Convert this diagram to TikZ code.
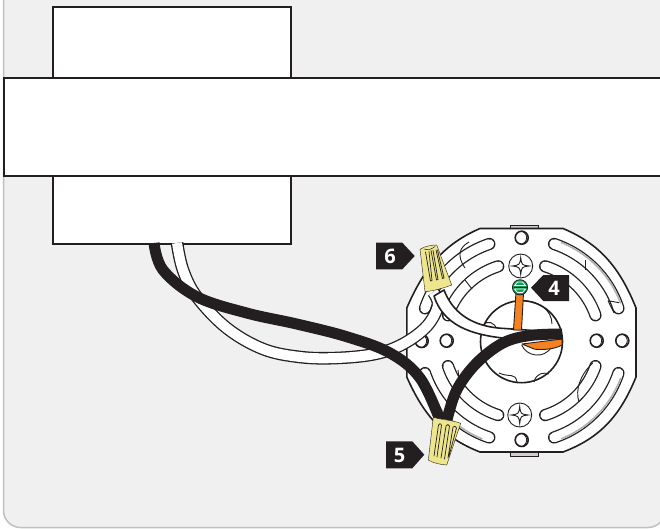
\documentclass[tikz,border=0pt]{standalone}
\usepackage{fontspec}
\setmainfont{Open Sans}
\definecolor{bgc}{HTML}{F0F0F0}
\definecolor{ink}{HTML}{231F20}
\definecolor{edgec}{HTML}{BFC0C2}
\definecolor{wnut}{HTML}{EDE68C}
\definecolor{wire}{HTML}{F58220}
\definecolor{grn}{HTML}{12A05A}
\tikzset{
  outl/.style={draw=ink,line width=1.6pt},
  thin line/.style={draw=ink,line width=0.9pt},
  tag/.style={fill=ink,draw=none},
  tagtext/.style={text=white,font=\bfseries\fontsize{20}{20}\selectfont,inner sep=0pt},
  nut/.style={fill=wnut,draw=ink,line width=0.4pt,line join=round},
  rib/.style={draw=ink,line width=0.7pt,line cap=round,line join=round},
  blackwire/.style={draw=ink,line width=11pt,line cap=butt},
}
\newcommand{\arcplot}[3]{plot[domain=#1:#2,samples=30,smooth] ({521.7+#3*cos(\x)},{340.7+#3*sin(\x)})}
\newcommand{\slotarc}[3]{%
  \draw[ink,line width=12.2pt,line cap=round] \arcplot{#1}{#2}{#3};
  \draw[white,line width=9.6pt,line cap=round] \arcplot{#1}{#2}{#3};}
\newcommand{\crescent}[3]{\draw[gray!60,line width=1.6pt,line cap=round] \arcplot{#1}{#2}{#3};}
\newcommand{\holec}[3]{\draw[outl,fill=white] (#1,#2) circle[radius=#3];
  \draw[ink,line width=0.8pt] plot[domain=-65:65,samples=12,smooth] ({#1-1.6+#3*cos(\x)},{#2+#3*sin(\x)});}
\newcommand{\starscrew}[2]{%
  \draw[thin line,fill=white] (#1,#2) circle[radius=12];
  \draw[thin line,line join=miter] (#1,#2-8.5) .. controls (#1+1,#2-1) .. (#1+8.5,#2)
     .. controls (#1+1,#2+1) .. (#1,#2+8.5) .. controls (#1-1,#2+1) .. (#1-8.5,#2)
     .. controls (#1-1,#2-1) .. cycle;}
\begin{document}
\begin{tikzpicture}[x=1pt,y=-1pt]
\useasboundingbox (0,0) rectangle (660,529);
% panel
\draw[fill=bgc,draw=edgec,line width=1.5pt,rounded corners=17pt] (3.5,-40) rectangle (665,527.5);
% wall box
\node[outl,fill=white,minimum width=238pt,minimum height=237pt,inner sep=0pt,anchor=north west] (box) at (52,6) {};
% bar
\draw[outl,fill=white] (720,78) -- (4,78) -- (4,176) -- (720,176);
% plate
\coordinate (pc) at (521.7,340.7);
\draw[thin line,fill=bgc!70!gray] (510,229) rectangle (538,225.8);
\draw[thin line,fill=bgc!70!gray] (510,452) rectangle (538,456);
\draw[outl,fill=white,line join=round]
  (480,228.5) -- (563,228.5)
  .. controls (600,244) and (620,268) .. (636,308)
  -- (636,377)
  .. controls (620,416) and (600,438) .. (563,452)
  -- (480,452)
  .. controls (444,438) and (424,416) .. (406.8,377)
  -- (406.8,308)
  .. controls (424,268) and (444,244) .. cycle;
% slots
\slotarc{-71.5}{-18.5}{102}
\slotarc{18.5}{71.5}{102}
\slotarc{108.5}{161.5}{102}
\slotarc{198.5}{251.5}{102}
\slotarc{-72.5}{-19}{78}
\slotarc{19}{72.5}{78}
\slotarc{107.5}{161}{78}
\slotarc{199}{252.5}{78}
\crescent{-68}{-21}{105.8}
\crescent{21}{68}{105.8}
\crescent{112}{150}{105.8}
% details seen through the slots
\draw[thin line] (585,260) -- (585,270);
\draw[thin line] (608,300.7) -- (619,302.7) (608,300.7) -- (614,313);
\draw[thin line] (592.7,363) .. controls (580,375) and (575,390) .. (579,402);
\draw[thin line] (458,370) .. controls (460,385) and (459,395) .. (455,397);
\draw[thin line] (465,280) -- (472,289);
\draw[thin line] (469,242) .. controls (460,247) and (456,255) .. (465,268);
% holes and screws
\holec{521.7}{237.7}{6.5}
\holec{521.7}{440}{6.5}
\holec{446.7}{340.7}{6.5}
\holec{596.7}{340.7}{6.5}
\holec{622.3}{340.7}{6.5}
\holec{421.7}{341}{6.5}
\starscrew{520.7}{266}
\starscrew{519.7}{415}
% centre circle and its details
\draw[outl,fill=white] (521.5,341.7) circle[radius=41];
\draw[thin line] (483,325) .. controls (487,320) and (495,322) .. (497,330);
\draw[thin line] (499,373) .. controls (510,378) and (515,372) .. (517,382);
\draw[thin line] (534,382) .. controls (536,373) and (544,372) .. (549,374);
\draw[thin line] (522,301) .. controls (538,300) and (552,310) .. (552,324);
\draw[thin line] (521.7,345) .. controls (526,356) and (544,360) .. (551.7,346.7);
% white wire from the box
\draw[ink,line width=12.6pt] plot[smooth,tension=0.6] coordinates {(177,243) (183,270) (196.7,296.7) (226.7,328) (263,349) (300,357) (336.7,358) (375,354) (403,344) (427,326) (438,305) (433,292)};
\draw[white,line width=10pt] plot[smooth,tension=0.6] coordinates {(177,243) (183,270) (196.7,296.7) (226.7,328) (263,349) (300,357) (336.7,358) (375,354) (403,344) (427,326) (438,305) (433,292)};
% white wire into the centre
\draw[outl,fill=white,line join=round]
  (444,290) .. controls (452,311) and (470,327) .. (505,328.5)
  -- (540,331) -- (512,339)
  .. controls (480,336) and (445,330) .. (434,296) -- cycle;
% orange wires
\draw[thin line,fill=wire,line join=round] (516,292) -- (523.5,293) -- (521.5,330) -- (513.5,330) -- cycle;
\draw[thin line,fill=wire,line join=round] (522,344) -- (562,339) -- (562,345) .. controls (554,350) and (538,350) .. (534,349) -- cycle;
% black wires
\draw[blackwire] plot[smooth,tension=0.6] coordinates {(154,243) (163,270) (196.7,296.7) (246.7,313) (296.7,324) (346.7,336.7) (390,353) (420,378) (440,420)};
\draw[blackwire] plot[smooth,tension=0.6] coordinates {(447,420) (456.7,390) (476.7,363) (503,343) (530,335.5) (562,334)};
% green screw
\draw[draw=ink,line width=0.8pt,fill=grn] (520,287.3) circle[radius=7.6];
\draw[white,line width=0.7pt,line join=round] (514.5,285.5) -- (517.5,282) -- (522.5,282) -- (525.5,285.5) -- cycle;
\draw[white,line width=0.7pt,line join=round] (514.5,289) -- (517.5,292.5) -- (522.5,292.5) -- (525.5,289) -- cycle;
\draw[ink,line width=0.6pt] (513.5,287.3) -- (526.5,287.3);
% wire nut 6
\node[inner sep=0pt] (n6) at (436,268) {};
\draw[nut] (420,249.3) .. controls (425,246) and (432,245) .. (436.7,245) -- (451.7,285) .. controls (444,288) and (433,291) .. (425,291.7) -- cycle;
\draw[rib] (425.5,252) -- (430.5,281) -- (432,280.5) -- (429,251.5)
           (431,250.5) -- (436.5,280) -- (438,279.5) -- (433,250.5);
\draw[rib] (436,250) -- (442.5,278.5) -- (444,278) -- (437.5,250);
\draw[draw=ink,line width=0.5pt,fill=wnut!70!white] (424,249) .. controls (428,250.5) and (432,249) .. (435,246.5);
% wire nut 5
\node[inner sep=0pt] (n5) at (443,440) {};
\draw[nut] (433.3,417.3) .. controls (442,420) and (452,420) .. (460.7,423.3) -- (446.7,465) .. controls (440,464.5) and (433,463) .. (428.3,460) -- cycle;
\draw[rib] (434,456) -- (438.5,425) .. controls (439,423) and (441,423) .. (441.5,425) -- (437,457)
           (441,458) -- (446,426) .. controls (447,424) and (449,424) .. (449.5,426) -- (444.5,459)
           (448,458) -- (453,427) .. controls (454,426) and (456,426) .. (456.5,428) -- (449,456);
% tags
\draw[tag,fill=ink] (376,242.7) -- (402.3,242.7) -- (414.7,256) -- (402.3,269.3) -- (376,269.3) -- cycle;
\node[tagtext] (t6) at (390,256) {6};
\draw[tag,fill=ink] (386,441.3) -- (412.3,441.3) -- (424.3,454.7) -- (412.3,468.3) -- (386,468.3) -- cycle;
\node[tagtext] (t5) at (399.5,455) {5};
\draw[tag,fill=ink] (569,275) -- (543.3,275) -- (531,287.7) -- (543.3,301) -- (569,301) -- cycle;
\node[tagtext] (t4) at (554,288) {4};
\end{tikzpicture}
\end{document}
